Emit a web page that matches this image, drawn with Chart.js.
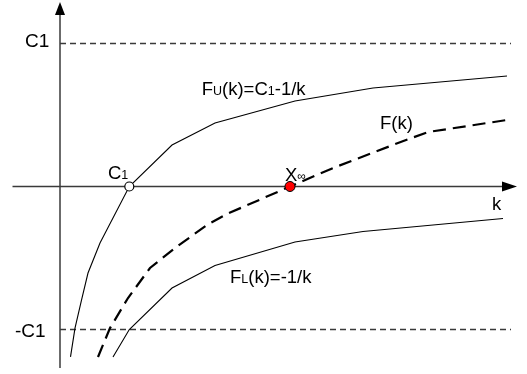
<!DOCTYPE html>
<html>
<head>
<meta charset="utf-8">
<script src="https://cdn.jsdelivr.net/npm/chart.js@4.4.1/dist/chart.umd.min.js"></script>
<style>
html,body{margin:0;padding:0;background:#fff;}
#wrap{width:527px;height:374px;position:relative;}
</style>
</head>
<body>
<div id="wrap"><canvas id="c"></canvas></div>
<script>
// Values (k along horizontal axis, value along vertical axis, C1 = 1)
const C1 = 1;
const upperK = [0.21, 0.30, 0.43, 0.56, 0.80, 1.386, 2.24, 3.10, 4.70, 6.26, 8.94];
const upperV = [-1.192, -0.990, -0.794, -0.605, -0.395, 0, 0.290, 0.444, 0.598, 0.689, 0.773];
const lowerK = [1.06, 1.386, 2.24, 3.10, 4.70, 6.06, 8.86];
const lowerV = [-1.192, -1.0, -0.710, -0.552, -0.388, -0.315, -0.224];
const fK = [0.76, 1.00, 1.36, 1.80, 2.30, 2.94, 3.34, 4.60, 5.46, 6.76, 7.36, 8.94];
const fV = [-1.192, -0.990, -0.780, -0.570, -0.430, -0.269, -0.192, 0, 0.129, 0.304, 0.381, 0.465];
const boundK = [0, 9.02];
const c1Point = {k: 1.386, v: 0};
const xInfPoint = {k: 4.60, v: 0};

const pts = (ks, vs) => ks.map((k, i) => ({x: k, y: vs[i]}));

const FONT = "'Liberation Sans', Arial, sans-serif";
function rich(ctx, x, y, parts) {
  let cx = x;
  for (const p of parts) {
    ctx.font = p[1] + "px " + FONT;
    ctx.fillText(p[0], cx, y + (p[2] || 0));
    cx += ctx.measureText(p[0]).width;
  }
}

const axesPlugin = {
  id: 'axesPlugin',
  beforeDatasetsDraw(chart) {
    const {ctx, scales: {x, y}} = chart;
    ctx.save();
    ctx.strokeStyle = '#3a3a3a';
    ctx.fillStyle = '#000';
    ctx.lineWidth = 1.5;
    // vertical axis
    const x0 = x.getPixelForValue(0);
    const yTop = y.getPixelForValue(1.29);
    const yBot = y.getPixelForValue(-1.269);
    ctx.beginPath();
    ctx.moveTo(x0, yBot);
    ctx.lineTo(x0, yTop + 10);
    ctx.stroke();
    ctx.beginPath();
    ctx.moveTo(x0, yTop);
    ctx.lineTo(x0 - 5, yTop + 13);
    ctx.lineTo(x0 + 5, yTop + 13);
    ctx.closePath();
    ctx.fill();
    // horizontal axis
    const y0 = y.getPixelForValue(0);
    const xL = x.getPixelForValue(-0.95);
    const xR = x.getPixelForValue(9.14);
    ctx.beginPath();
    ctx.moveTo(xL, y0);
    ctx.lineTo(xR - 10, y0);
    ctx.stroke();
    ctx.beginPath();
    ctx.moveTo(xR, y0);
    ctx.lineTo(xR - 15, y0 - 5);
    ctx.lineTo(xR - 15, y0 + 5);
    ctx.closePath();
    ctx.fill();
    ctx.restore();
  },
  afterDatasetsDraw(chart) {
    const {ctx, scales: {x, y}} = chart;
    ctx.save();
    ctx.fillStyle = '#000';
    ctx.textBaseline = 'alphabetic';
    const P = (k, v) => [x.getPixelForValue(k), y.getPixelForValue(v)];
    let p;
    p = P(-0.7, 0.979); rich(ctx, p[0], p[1], [['C1', 19]]);
    p = P(-0.9, -1.049); rich(ctx, p[0], p[1], [['-C1', 19]]);
    p = P(2.834, 0.642); rich(ctx, p[0], p[1], [['F', 18.5], ['U', 12.5], ['(k)=C', 18.5], ['1', 12.5], ['-1/k', 18.5]]);
    p = P(6.4, 0.399); rich(ctx, p[0], p[1], [['F(k)', 18.5]]);
    p = P(8.64, -0.164); rich(ctx, p[0], p[1], [['k', 18.5]]);
    p = P(3.4, -0.675); rich(ctx, p[0], p[1], [['F', 18.5], ['L', 12.5], ['(k)=-1/k', 18.5]]);
    p = P(0.96, 0.052); rich(ctx, p[0], p[1], [['C', 18.5], ['1', 12.5]]);
    p = P(4.50, 0.035); rich(ctx, p[0], p[1], [['X', 18.5], ['\u221E', 12, -1]]);
    ctx.restore();
  }
};

new Chart(document.getElementById('c'), {
  type: 'scatter',
  data: {
    datasets: [
      {order: 2, data: pts(boundK, [C1, C1]), showLine: true, borderColor: '#3a3a3a', borderWidth: 1.3, borderDash: [6, 4], pointRadius: 0},
      {order: 2, data: pts(boundK, [-C1, -C1]), showLine: true, borderColor: '#3a3a3a', borderWidth: 1.3, borderDash: [6, 4], pointRadius: 0},
      {order: 1, data: pts(upperK, upperV), showLine: true, borderColor: '#000', borderWidth: 1.1, pointRadius: 0, tension: 0},
      {order: 1, data: pts(lowerK, lowerV), showLine: true, borderColor: '#000', borderWidth: 1.1, pointRadius: 0, tension: 0},
      {order: 1, data: pts(fK, fV), showLine: true, borderColor: '#000', borderWidth: 2.2, borderDash: [13, 7], pointRadius: 0, tension: 0},
      {order: 0, data: [{x: c1Point.k, y: c1Point.v}], pointRadius: 4.5, pointBackgroundColor: '#fff', pointBorderColor: '#000', pointBorderWidth: 1.2},
      {order: 0, data: [{x: xInfPoint.k, y: xInfPoint.v}], pointRadius: 5, pointBackgroundColor: '#ff0000', pointBorderColor: '#000', pointBorderWidth: 1}
    ]
  },
  options: {
    responsive: true,
    maintainAspectRatio: false,
    animation: false,
    layout: {padding: 0, autoPadding: false},
    plugins: {legend: {display: false}, tooltip: {enabled: false}},
    events: [],
    scales: {
      x: {type: 'linear', display: false, min: -1.2, max: 9.34},
      y: {type: 'linear', display: false, min: -1.3112, max: 1.3042}
    }
  },
  plugins: [axesPlugin]
});
</script>
</body>
</html>
